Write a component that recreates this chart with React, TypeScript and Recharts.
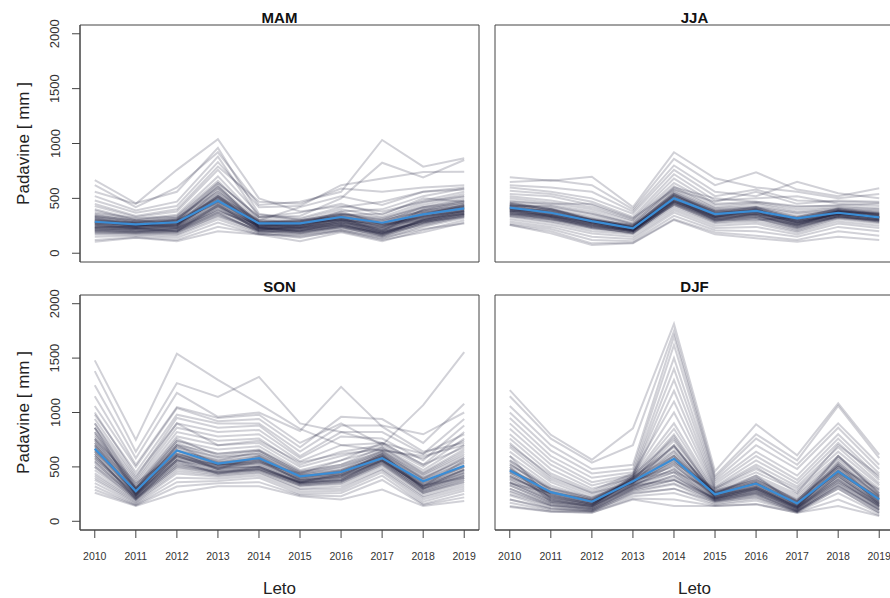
import React from 'react';
import { LineChart, Line, XAxis, YAxis, ReferenceArea } from 'recharts';

const YEARS = [2010, 2011, 2012, 2013, 2014, 2015, 2016, 2017, 2018, 2019];
const Y_TICKS = [0, 500, 1000, 1500, 2000];
const X_DOMAIN = [2009.64, 2019.36];
const Y_DOMAIN = [-80, 2080];

const MAM_MEAN = [287, 263, 282, 479, 272, 272, 330, 278, 354, 409];
const MAM_LINES = [
  [560, 450, 760, 1040, 500, 380, 430, 380, 470, 520],
  [667, 455, 560, 960, 360, 300, 360, 320, 420, 480],
  [620, 420, 600, 920, 440, 470, 560, 1032, 789, 865],
  [520, 390, 470, 880, 330, 340, 500, 825, 690, 850],
  [480, 370, 430, 830, 420, 430, 620, 680, 740, 743],
  [450, 340, 400, 790, 470, 450, 590, 560, 600, 620],
  [430, 330, 380, 760, 350, 320, 420, 470, 560, 600],
  [400, 310, 350, 700, 310, 290, 380, 400, 520, 590],
  [390, 300, 340, 660, 300, 280, 350, 360, 480, 560],
  [370, 320, 330, 640, 330, 310, 400, 330, 460, 540],
  [350, 290, 310, 610, 290, 270, 360, 310, 440, 520],
  [330, 280, 320, 590, 280, 290, 340, 300, 420, 500],
  [320, 270, 300, 560, 270, 260, 320, 290, 400, 480],
  [310, 260, 290, 540, 260, 250, 330, 270, 390, 470],
  [300, 280, 280, 520, 290, 270, 310, 260, 380, 450],
  [290, 250, 270, 510, 250, 240, 300, 250, 360, 440],
  [280, 260, 260, 490, 260, 250, 310, 240, 350, 430],
  [270, 240, 250, 470, 240, 230, 290, 230, 340, 420],
  [260, 250, 240, 450, 250, 240, 280, 220, 330, 410],
  [250, 230, 230, 440, 230, 220, 270, 210, 320, 400],
  [240, 220, 220, 420, 240, 230, 260, 200, 310, 390],
  [230, 210, 210, 400, 220, 210, 250, 190, 300, 380],
  [220, 220, 200, 390, 230, 200, 240, 180, 290, 370],
  [210, 200, 190, 370, 210, 190, 230, 170, 280, 360],
  [200, 190, 180, 350, 200, 180, 240, 160, 270, 350],
  [190, 180, 170, 330, 190, 160, 220, 150, 250, 340],
  [170, 170, 160, 310, 180, 140, 210, 130, 240, 320],
  [150, 160, 140, 280, 170, 110, 190, 110, 210, 300],
  [120, 145, 120, 240, 175, 150, 200, 120, 190, 280],
  [105, 140, 110, 200, 170, 170, 210, 140, 220, 270],
  [340, 300, 270, 520, 300, 420, 520, 440, 560, 580],
  [300, 240, 310, 640, 330, 370, 450, 350, 500, 470],
  [260, 230, 250, 580, 240, 260, 380, 260, 340, 380],
  [230, 250, 260, 470, 270, 300, 330, 240, 370, 420],
  [210, 190, 220, 430, 210, 200, 260, 190, 290, 330],
  [280, 270, 240, 500, 280, 260, 300, 270, 320, 360],
  [260, 230, 200, 420, 210, 250, 280, 200, 280, 350],
  [300, 260, 280, 540, 230, 220, 300, 220, 360, 420],
  [220, 200, 230, 380, 260, 280, 300, 170, 300, 380],
  [340, 290, 300, 600, 270, 240, 320, 250, 330, 400],
  [280, 250, 300, 460, 240, 200, 290, 200, 400, 450],
  [240, 230, 220, 400, 220, 240, 320, 190, 290, 370],
  [200, 200, 210, 360, 200, 210, 270, 160, 310, 390],
  [310, 270, 260, 520, 250, 230, 280, 230, 350, 440],
  [270, 240, 270, 480, 260, 260, 340, 260, 300, 360],
  [230, 210, 200, 440, 230, 190, 250, 180, 260, 330],
  [180, 180, 190, 340, 210, 220, 260, 170, 280, 350],
  [360, 300, 320, 560, 290, 300, 360, 280, 420, 460],
  [250, 220, 250, 500, 220, 230, 300, 210, 330, 410],
  [290, 280, 270, 470, 280, 290, 350, 300, 380, 430],
  [210, 220, 240, 450, 200, 180, 240, 150, 270, 340],
  [320, 250, 290, 620, 240, 260, 310, 240, 370, 410],
  [190, 190, 200, 370, 190, 200, 250, 180, 300, 360],
  [270, 260, 230, 430, 250, 270, 320, 210, 340, 380],
  [240, 240, 260, 520, 230, 210, 270, 190, 310, 390],
  [330, 280, 300, 500, 270, 280, 340, 270, 390, 430],
];

const JJA_MEAN = [415, 369, 293, 227, 500, 357, 385, 318, 369, 327];
const JJA_LINES = [
  [692, 660, 697, 420, 920, 683, 600, 560, 500, 540],
  [650, 667, 620, 400, 860, 620, 737, 580, 520, 592],
  [620, 600, 560, 380, 800, 560, 520, 652, 546, 500],
  [600, 560, 500, 360, 760, 520, 580, 480, 470, 460],
  [570, 540, 470, 330, 720, 480, 500, 520, 450, 430],
  [540, 520, 440, 310, 680, 450, 470, 430, 430, 410],
  [520, 480, 420, 300, 640, 440, 460, 400, 420, 400],
  [500, 460, 400, 290, 610, 420, 450, 380, 410, 390],
  [480, 440, 380, 270, 590, 410, 430, 370, 400, 380],
  [460, 420, 360, 260, 570, 400, 420, 360, 390, 370],
  [450, 400, 340, 250, 550, 390, 410, 340, 390, 360],
  [440, 390, 320, 240, 540, 380, 400, 320, 380, 350],
  [430, 380, 310, 230, 520, 370, 390, 300, 380, 350],
  [420, 370, 300, 230, 510, 360, 390, 290, 370, 340],
  [410, 360, 290, 220, 500, 350, 380, 280, 360, 330],
  [400, 350, 280, 210, 490, 340, 370, 270, 360, 330],
  [390, 340, 270, 210, 480, 330, 360, 260, 350, 320],
  [380, 330, 260, 200, 470, 320, 350, 250, 350, 310],
  [370, 320, 250, 200, 460, 310, 340, 240, 340, 300],
  [360, 310, 240, 190, 450, 300, 330, 230, 340, 300],
  [350, 300, 230, 190, 440, 290, 320, 220, 330, 290],
  [340, 290, 220, 180, 430, 280, 310, 210, 320, 280],
  [330, 280, 200, 170, 410, 270, 290, 200, 310, 270],
  [310, 260, 180, 150, 390, 250, 270, 190, 290, 250],
  [290, 240, 150, 130, 370, 230, 240, 170, 270, 230],
  [270, 220, 120, 110, 340, 210, 200, 150, 240, 200],
  [260, 200, 90, 95, 310, 190, 160, 120, 200, 160],
  [257, 181, 75, 90, 303, 172, 136, 105, 150, 120],
  [470, 450, 450, 320, 580, 470, 560, 450, 480, 470],
  [430, 430, 360, 270, 600, 500, 470, 420, 440, 450],
  [380, 400, 300, 240, 500, 300, 300, 330, 400, 350],
  [400, 340, 280, 250, 540, 360, 420, 300, 330, 310],
  [440, 410, 300, 260, 470, 330, 380, 280, 360, 330],
  [360, 350, 270, 210, 500, 330, 390, 310, 380, 360],
  [420, 380, 280, 220, 520, 360, 400, 300, 380, 340],
  [380, 330, 250, 200, 480, 320, 340, 250, 370, 320],
  [450, 400, 320, 240, 560, 390, 420, 330, 400, 360],
  [400, 360, 300, 230, 500, 350, 380, 280, 360, 310],
  [360, 320, 230, 190, 450, 300, 320, 230, 330, 290],
  [430, 370, 270, 210, 470, 340, 360, 290, 390, 350],
  [390, 350, 310, 250, 530, 380, 410, 320, 350, 330],
  [410, 340, 260, 200, 490, 330, 350, 240, 340, 300],
  [440, 390, 290, 230, 540, 370, 390, 310, 410, 370],
  [370, 310, 240, 180, 460, 310, 330, 260, 360, 320],
  [350, 330, 270, 220, 440, 290, 370, 270, 320, 300],
  [420, 350, 250, 210, 510, 340, 380, 260, 370, 330],
  [400, 380, 300, 240, 480, 360, 360, 300, 390, 340],
  [380, 340, 290, 220, 500, 330, 400, 280, 350, 310],
  [460, 400, 300, 230, 520, 380, 380, 320, 380, 360],
  [340, 310, 260, 200, 470, 310, 350, 250, 340, 290],
  [410, 370, 280, 220, 530, 350, 400, 290, 360, 330],
  [390, 330, 240, 210, 460, 320, 360, 270, 380, 320],
];

const SON_MEAN = [667, 277, 651, 530, 581, 414, 453, 581, 368, 511];
const SON_LINES = [
  [1479, 749, 1540, 1300, 1080, 850, 700, 650, 600, 700],
  [1380, 640, 1270, 1144, 1327, 900, 820, 720, 620, 800],
  [1250, 580, 1180, 960, 1000, 830, 1236, 870, 640, 720],
  [1150, 520, 1050, 950, 980, 720, 900, 700, 1068, 1555],
  [1060, 500, 1040, 920, 940, 680, 960, 940, 720, 1080],
  [980, 450, 980, 900, 900, 640, 880, 880, 800, 1000],
  [940, 400, 950, 860, 880, 600, 820, 820, 620, 940],
  [900, 380, 900, 820, 840, 580, 780, 760, 560, 880],
  [860, 360, 860, 780, 800, 550, 700, 720, 520, 820],
  [820, 340, 820, 740, 760, 520, 640, 700, 500, 760],
  [780, 320, 780, 700, 720, 500, 600, 680, 470, 700],
  [740, 300, 740, 660, 690, 470, 560, 660, 450, 660],
  [700, 290, 700, 620, 650, 450, 520, 640, 430, 620],
  [660, 280, 680, 590, 620, 430, 500, 620, 400, 580],
  [640, 270, 650, 560, 600, 410, 470, 600, 380, 540],
  [600, 260, 620, 540, 570, 390, 450, 590, 360, 500],
  [580, 250, 600, 520, 550, 380, 430, 580, 340, 470],
  [560, 240, 580, 500, 530, 370, 410, 560, 320, 440],
  [520, 230, 560, 480, 510, 360, 400, 550, 300, 420],
  [500, 220, 540, 460, 490, 350, 380, 540, 280, 400],
  [470, 210, 520, 450, 480, 340, 370, 530, 260, 380],
  [440, 200, 500, 440, 470, 330, 360, 520, 250, 360],
  [420, 190, 480, 430, 460, 320, 340, 500, 230, 340],
  [400, 180, 460, 420, 450, 300, 320, 480, 220, 320],
  [380, 170, 440, 410, 440, 290, 300, 470, 200, 300],
  [350, 160, 400, 390, 420, 270, 280, 450, 180, 280],
  [320, 150, 360, 370, 400, 250, 260, 420, 160, 250],
  [290, 145, 320, 350, 360, 240, 230, 380, 150, 220],
  [262, 140, 262, 322, 322, 231, 201, 292, 140, 186],
  [720, 300, 600, 480, 500, 360, 380, 560, 330, 400],
  [860, 240, 700, 520, 560, 420, 440, 620, 300, 480],
  [620, 200, 560, 440, 480, 360, 420, 560, 320, 560],
  [1000, 420, 900, 700, 740, 540, 620, 660, 580, 740],
  [760, 350, 620, 520, 540, 440, 560, 720, 520, 680],
  [700, 260, 650, 520, 580, 400, 450, 600, 350, 500],
  [600, 230, 600, 480, 540, 380, 400, 560, 320, 460],
  [800, 300, 720, 580, 620, 440, 480, 640, 400, 560],
  [650, 250, 560, 500, 500, 360, 380, 580, 300, 420],
  [750, 280, 680, 540, 600, 420, 460, 610, 360, 520],
  [550, 210, 520, 460, 480, 340, 360, 540, 280, 400],
  [900, 320, 760, 600, 650, 450, 500, 650, 420, 600],
  [680, 270, 620, 500, 560, 390, 420, 590, 330, 480],
  [580, 240, 580, 520, 520, 360, 440, 570, 300, 440],
  [720, 250, 640, 480, 600, 410, 430, 620, 380, 540],
  [620, 220, 540, 440, 500, 350, 370, 550, 270, 380],
  [820, 290, 700, 560, 640, 430, 470, 630, 390, 580],
  [500, 200, 500, 450, 470, 330, 350, 520, 260, 360],
  [760, 310, 660, 540, 580, 400, 460, 600, 340, 500],
  [640, 260, 600, 490, 550, 380, 420, 580, 310, 450],
  [860, 300, 740, 620, 660, 460, 520, 680, 440, 640],
  [540, 220, 560, 470, 500, 350, 390, 560, 290, 420],
  [690, 240, 610, 510, 570, 370, 410, 600, 320, 470],
];

const DJF_MEAN = [466, 268, 180, 368, 575, 247, 347, 164, 460, 201];
const DJF_LINES = [
  [1205, 795, 566, 855, 1814, 460, 892, 606, 1084, 612],
  [1150, 760, 540, 700, 1750, 420, 800, 560, 1060, 580],
  [1060, 700, 480, 520, 1700, 400, 760, 520, 900, 520],
  [1000, 650, 440, 480, 1620, 380, 700, 480, 860, 480],
  [950, 600, 400, 450, 1500, 360, 640, 420, 800, 440],
  [900, 560, 360, 430, 1400, 340, 600, 380, 760, 400],
  [850, 520, 330, 420, 1300, 320, 560, 350, 720, 380],
  [800, 480, 300, 400, 1200, 310, 520, 320, 680, 350],
  [760, 440, 280, 440, 1100, 300, 480, 300, 640, 330],
  [720, 400, 260, 420, 1000, 290, 450, 280, 600, 300],
  [680, 380, 240, 410, 900, 280, 420, 250, 580, 280],
  [640, 360, 220, 400, 850, 270, 400, 230, 560, 260],
  [600, 330, 210, 390, 800, 260, 380, 210, 540, 240],
  [560, 310, 200, 380, 740, 250, 360, 190, 520, 230],
  [520, 290, 190, 370, 690, 240, 340, 180, 500, 210],
  [480, 270, 180, 360, 640, 230, 320, 170, 480, 200],
  [450, 250, 170, 350, 600, 220, 310, 160, 460, 190],
  [420, 230, 160, 340, 560, 215, 300, 150, 440, 180],
  [390, 210, 150, 330, 520, 210, 290, 140, 420, 170],
  [360, 190, 140, 320, 480, 200, 280, 130, 400, 160],
  [330, 170, 130, 310, 450, 195, 270, 120, 380, 140],
  [300, 150, 120, 300, 420, 190, 260, 110, 360, 130],
  [270, 140, 110, 290, 380, 180, 250, 100, 340, 110],
  [240, 120, 100, 270, 340, 170, 230, 95, 320, 100],
  [200, 110, 95, 250, 300, 160, 210, 90, 300, 80],
  [170, 100, 90, 230, 260, 150, 190, 85, 260, 70],
  [140, 90, 80, 210, 200, 140, 160, 80, 200, 55],
  [131, 88, 79, 201, 140, 140, 155, 79, 140, 48],
  [600, 200, 130, 400, 700, 220, 320, 120, 520, 150],
  [500, 180, 140, 420, 760, 250, 420, 140, 600, 260],
  [350, 260, 200, 380, 460, 280, 380, 200, 500, 290],
  [460, 300, 220, 360, 600, 260, 360, 180, 440, 220],
  [700, 420, 260, 350, 540, 300, 500, 260, 700, 420],
  [540, 240, 160, 330, 380, 210, 300, 130, 380, 140],
  [450, 250, 170, 360, 560, 240, 340, 160, 450, 200],
  [380, 200, 140, 330, 480, 210, 300, 120, 400, 160],
  [520, 300, 200, 400, 650, 270, 380, 190, 520, 240],
  [300, 160, 110, 300, 420, 200, 260, 100, 350, 120],
  [420, 230, 160, 350, 700, 230, 330, 140, 480, 180],
  [560, 280, 190, 380, 620, 260, 360, 170, 500, 220],
  [350, 180, 130, 320, 520, 220, 290, 110, 420, 140],
  [480, 220, 150, 370, 780, 240, 320, 130, 440, 170],
  [250, 140, 100, 280, 350, 190, 240, 90, 330, 100],
  [400, 260, 180, 390, 600, 250, 350, 150, 460, 210],
  [330, 170, 120, 340, 450, 200, 280, 110, 380, 130],
  [500, 240, 170, 350, 540, 230, 310, 140, 470, 190],
  [200, 120, 90, 260, 300, 180, 220, 85, 300, 80],
  [440, 210, 150, 400, 680, 250, 350, 160, 540, 230],
  [360, 190, 140, 310, 400, 210, 270, 120, 360, 150],
  [470, 270, 190, 360, 580, 260, 400, 180, 600, 250],
  [280, 150, 110, 290, 380, 190, 250, 95, 320, 110],
  [410, 220, 160, 380, 500, 240, 300, 130, 420, 160],
];

const FONT = '"Liberation Sans", Arial, Helvetica, sans-serif';
const LINE_COLOR = '#1a1a38';
const MEAN_COLOR = '#3a8dd6';
const BOX_COLOR = '#444';

function buildRows(lines: number[][], mean: number[]) {
  return YEARS.map((year, i) => {
    const row: Record<string, number> = { year, mean: mean[i] };
    lines.forEach((l, j) => {
      row['s' + j] = l[i];
    });
    return row;
  });
}

const YTick = (props: any) => {
  const { x, y, payload } = props;
  const bx = x - 10.5;
  return (
    <text
      x={bx}
      y={y}
      transform={`rotate(-90, ${bx}, ${y})`}
      textAnchor="middle"
      fontSize={13}
      fontFamily={FONT}
      fill="#333"
    >
      {payload.value}
    </text>
  );
};

type PanelProps = {
  lines: number[][];
  mean: number[];
  left: number;
  right: number;
  top: number;
  bottom: number;
  showX: boolean;
  showY: boolean;
};

const W = 900;
const H = 598;

function Panel({ lines, mean, left, right, top, bottom, showX, showY }: PanelProps) {
  const rows = buildRows(lines, mean);
  const xH = 30;
  const yW = 60;
  return (
    <div style={{ position: 'absolute', left: 0, top: 0 }}>
      <LineChart
        width={W}
        height={H}
        data={rows}
        margin={{
          top,
          right: W - right,
          bottom: H - bottom - (showX ? xH : 0),
          left: showY ? left - yW : left,
        }}
      >
        <XAxis
          dataKey="year"
          type="number"
          domain={X_DOMAIN}
          ticks={YEARS}
          interval={0}
          allowDataOverflow
          hide={!showX}
          height={xH}
          tickSize={8}
          tickMargin={15}
          axisLine={{ stroke: BOX_COLOR }}
          tickLine={{ stroke: BOX_COLOR }}
          tick={{ fontSize: 10.5, fill: '#333', fontFamily: FONT }}
        />
        <YAxis
          type="number"
          domain={Y_DOMAIN}
          ticks={Y_TICKS}
          interval={0}
          allowDataOverflow
          hide={!showY}
          width={yW}
          tickSize={8}
          tickMargin={2}
          axisLine={{ stroke: BOX_COLOR }}
          tickLine={{ stroke: BOX_COLOR }}
          tick={<YTick />}
        />
        <ReferenceArea
          x1={X_DOMAIN[0]}
          x2={X_DOMAIN[1]}
          y1={Y_DOMAIN[0]}
          y2={Y_DOMAIN[1]}
          fill="none"
          fillOpacity={0}
          stroke={BOX_COLOR}
          strokeWidth={1}
          ifOverflow="visible"
        />
        {lines.map((_, j) => (
          <Line
            key={'s' + j}
            dataKey={'s' + j}
            type="linear"
            stroke={LINE_COLOR}
            strokeOpacity={0.2}
            strokeWidth={2}
            dot={false}
            activeDot={false}
            isAnimationActive={false}
          />
        ))}
        <Line
          dataKey="mean"
          type="linear"
          stroke={MEAN_COLOR}
          strokeWidth={2.2}
          dot={false}
          activeDot={false}
          isAnimationActive={false}
        />
      </LineChart>
    </div>
  );
}

export default function App() {
  return (
    <div
      style={{
        position: 'fixed',
        left: 0,
        top: 0,
        width: 890,
        height: 598,
        overflow: 'hidden',
        background: '#fff',
      }}
    >
      <Panel lines={MAM_LINES} mean={MAM_MEAN} left={80} right={479} top={25} bottom={262} showX={false} showY={true} />
      <Panel lines={JJA_LINES} mean={JJA_MEAN} left={495} right={894} top={25} bottom={262} showX={false} showY={false} />
      <Panel lines={SON_LINES} mean={SON_MEAN} left={80} right={479} top={295} bottom={530} showX={true} showY={true} />
      <Panel lines={DJF_LINES} mean={DJF_MEAN} left={495} right={894} top={295} bottom={530} showX={true} showY={false} />
      <svg
        width={890}
        height={598}
        style={{ position: 'absolute', left: 0, top: 0, pointerEvents: 'none' }}
        fontFamily={FONT}
      >
        <text x={279.5} y={23} textAnchor="middle" fontWeight="bold" fontSize={15} fill="#111">MAM</text>
        <text x={694.5} y={23} textAnchor="middle" fontWeight="bold" fontSize={15} fill="#111">JJA</text>
        <text x={279.5} y={292} textAnchor="middle" fontWeight="bold" fontSize={15} fill="#111">SON</text>
        <text x={694.5} y={292} textAnchor="middle" fontWeight="bold" fontSize={15} fill="#111">DJF</text>
        <text x={29} y={143.5} transform="rotate(-90, 29, 143.5)" textAnchor="middle" fontSize={17} fill="#222">Padavine [ mm ]</text>
        <text x={29} y={412.5} transform="rotate(-90, 29, 412.5)" textAnchor="middle" fontSize={17} fill="#222">Padavine [ mm ]</text>
        <text x={279.5} y={594} textAnchor="middle" fontSize={17} fill="#222">Leto</text>
        <text x={694.5} y={594} textAnchor="middle" fontSize={17} fill="#222">Leto</text>
      </svg>
    </div>
  );
}
